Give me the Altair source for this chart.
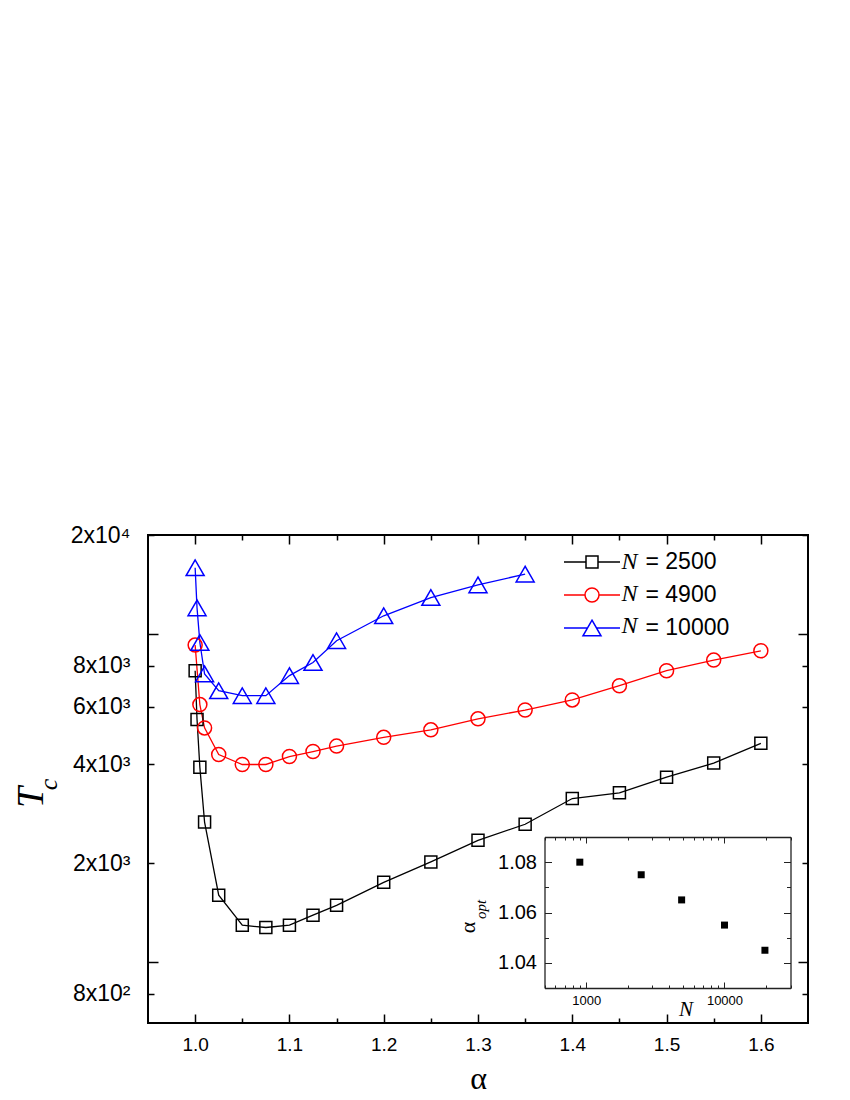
import altair as alt
import pandas as pd

# ---------------- data ----------------
series_labels = ["= 2500", "= 4900", "= 10000"]
series_symbols = ["N 2500", "N 4900", "N 10000"]
series_colors = ["#000000", "#ff0000", "#0000ff"]

alpha_2500 = [1.0, 1.002, 1.005, 1.01, 1.025, 1.05, 1.075, 1.1, 1.125, 1.15, 1.2,
              1.25, 1.3, 1.35, 1.4, 1.45, 1.5, 1.55, 1.6]
tc_2500 = [7720, 5480, 3920, 2670, 1600, 1296, 1275, 1296, 1390, 1490, 1750,
           2020, 2350, 2630, 3150, 3280, 3660, 4040, 4640]

alpha_4900 = [1.0, 1.005, 1.01, 1.025, 1.05, 1.075, 1.1, 1.125, 1.15, 1.2,
              1.25, 1.3, 1.35, 1.4, 1.45, 1.5, 1.55, 1.6]
tc_4900 = [9240, 6090, 5170, 4290, 4000, 4000, 4230, 4380, 4550, 4840,
           5100, 5510, 5860, 6290, 6950, 7720, 8320, 8880]

alpha_10000 = [1.0, 1.002, 1.005, 1.01, 1.025, 1.05, 1.075, 1.1, 1.125, 1.15,
               1.2, 1.25, 1.3, 1.35]
tc_10000 = [15900, 12000, 9410, 7550, 6710, 6480, 6480, 7460, 8180, 9530,
            11350, 12900, 14100, 15200]

inset_N = [900, 2500, 4900, 10000, 19600]
inset_alpha_opt = [1.08, 1.075, 1.065, 1.055, 1.045]

x_label_values = [1.0, 1.1, 1.2, 1.3, 1.4, 1.5, 1.6]
x_tick_values = [1.0, 1.05, 1.1, 1.15, 1.2, 1.25, 1.3, 1.35, 1.4, 1.45, 1.5, 1.55, 1.6]
y_label_values = [800, 2000, 4000, 6000, 8000, 20000]
y_label_texts = ["8x10²", "2x10³", "4x10³", "6x10³", "8x10³", "2x10⁴"]
y_tick_values = [800, 1000, 2000, 4000, 6000, 8000, 10000, 20000]
inset_x_label_values = [1000, 10000]
inset_x_tick_values = [500, 600, 700, 800, 900, 1000, 2000, 3000, 4000, 5000, 6000,
                       7000, 8000, 9000, 10000, 20000, 30000]
inset_y_label_values = [1.04, 1.06, 1.08]
inset_y_tick_values = [1.04, 1.05, 1.06, 1.07, 1.08]

# ---------------- geometry ----------------
W, H = 660, 488
INSET_X_RANGE = [396.5, 642.5]
INSET_Y_RANGE = [453, 302]

xs = alt.Scale(domain=[0.95, 1.65], nice=False, zero=False)
ys = alt.Scale(type="log", domain=[652.6, 20000], nice=False)
ixs = alt.Scale(type="log", domain=[500, 30000], range=INSET_X_RANGE, nice=False)
iys = alt.Scale(domain=[1.03, 1.09], range=INSET_Y_RANGE, nice=False, zero=False)

SANS = "Liberation Sans"
SERIF = "Liberation Serif"

x_tick_size = {"condition": {"test": "abs(datum.value*10 - round(datum.value*10)) < 0.01", "value": 9}, "value": 5}
y_tick_size = {"condition": {"test": "datum.value == 1000 || datum.value == 10000", "value": 10}, "value": 6}
ix_tick_size = {"condition": {"test": "datum.value == 1000 || datum.value == 10000", "value": 6}, "value": 3}
iy_tick_size = {"condition": {"test": "abs(datum.value*50 - round(datum.value*50)) < 0.01", "value": 7}, "value": 4}

y_label_expr = " : ".join(f"datum.value == {v} ? '{t}'" for v, t in zip(y_label_values, y_label_texts)) + " : ''"

# main axes
A1 = alt.Axis(orient="bottom", values=x_label_values, format=".1f", ticks=False, tickSize=0,
              domain=False, grid=False, labelFont=SANS, labelFontSize=19, labelPadding=12,
              labelColor="black", title="α", titleFont=SERIF, titleFontSize=32,
              titleFontWeight="normal", titleColor="black", titleY=65, titleBaseline="alphabetic")
A2 = alt.Axis(orient="top", offset=-H, values=x_tick_values, labels=False, domain=False, grid=False,
              tickSize=x_tick_size, tickWidth=1.5, tickColor="black", title=None)
A3 = alt.Axis(orient="bottom", offset=-H, values=x_tick_values, labels=False, domain=False, grid=False,
              tickSize=x_tick_size, tickWidth=1.5, tickColor="black", title=None)
B1 = alt.Axis(orient="left", values=y_label_values, labelExpr=y_label_expr, ticks=False, tickSize=0,
              domain=False, grid=False, labelFont=SANS, labelFontSize=23, labelPadding=18,
              labelColor="black", title="T", titleFont=SERIF, titleFontStyle="italic",
              titleFontWeight="normal", titleFontSize=38, titleColor="black", titleAngle=270,
              titleX=-105.5, titleY=262, titleAlign="center", titleBaseline="alphabetic")
B2 = alt.Axis(orient="right", offset=-W, values=y_tick_values, labels=False, domain=False, grid=False,
              tickSize=y_tick_size, tickWidth=1.5, tickColor="black",
              title="c", titleFont=SERIF, titleFontStyle="italic", titleFontWeight="normal",
              titleFontSize=26, titleColor="black", titleAngle=270, titleX=-91.5, titleY=249,
              titleAlign="center", titleBaseline="alphabetic")
B3 = alt.Axis(orient="left", offset=-W, values=y_tick_values, labels=False, domain=False, grid=False,
              tickSize=y_tick_size, tickWidth=1.5, tickColor="black", title=None)

# inset axes
C1 = alt.Axis(orient="bottom", offset=-35, values=inset_x_label_values, format="d", ticks=False,
              tickSize=0, domain=False, grid=False, labelFont=SANS, labelFontSize=13, labelPadding=6,
              labelColor="black", title="N", titleFont=SERIF, titleFontStyle="italic",
              titleFontWeight="normal", titleFontSize=21, titleColor="black", titleX=537.5, titleY=27,
              titleAlign="center", titleBaseline="alphabetic")
C2 = alt.Axis(orient="top", offset=-453, values=inset_x_tick_values, labels=False, domain=True,
              domainColor="#222222", domainWidth=1.3, grid=False, tickSize=ix_tick_size, tickWidth=1,
              tickColor="#222222", title=None)
C3 = alt.Axis(orient="bottom", offset=-186, values=inset_x_tick_values, labels=False, domain=True,
              domainColor="#222222", domainWidth=1.3, grid=False, tickSize=ix_tick_size, tickWidth=1,
              tickColor="#222222", title=None)
D1 = alt.Axis(orient="left", offset=-396.5, values=inset_y_label_values, format=".2f", ticks=False,
              tickSize=0, domain=False, grid=False, labelFont=SANS, labelFontSize=20, labelPadding=8,
              labelColor="black", title="α", titleFont=SERIF, titleFontSize=22,
              titleFontWeight="normal", titleColor="black", titleAngle=270, titleX=-70, titleY=392,
              titleAlign="center", titleBaseline="alphabetic")
D2 = alt.Axis(orient="right", offset=-263.5, values=inset_y_tick_values, labels=False, domain=True,
              domainColor="#222222", domainWidth=1.3, grid=False, tickSize=iy_tick_size, tickWidth=1,
              tickColor="#222222", title="opt", titleFont=SERIF, titleFontStyle="italic",
              titleFontWeight="normal", titleFontSize=15, titleColor="black", titleAngle=270,
              titleX=-59, titleY=374, titleAlign="center", titleBaseline="alphabetic")
D3 = alt.Axis(orient="left", offset=-642.5, values=inset_y_tick_values, labels=False, domain=True,
              domainColor="#222222", domainWidth=1.3, grid=False, tickSize=iy_tick_size, tickWidth=1,
              tickColor="#222222", title=None)

# ---------------- data frames ----------------
df_2500 = pd.DataFrame({"alpha": alpha_2500, "tc": tc_2500})
df_4900 = pd.DataFrame({"alpha": alpha_4900, "tc": tc_4900})
df_10000 = pd.DataFrame({"alpha": alpha_10000, "tc": tc_10000})
df_inset = pd.DataFrame({"N": inset_N, "a": inset_alpha_opt})
df_legend = pd.DataFrame({"label": series_labels, "nlabel": series_symbols})

def line_layer(df, color, xaxis, yaxis):
    return alt.Chart(df).mark_line(color=color, strokeWidth=1.3).encode(
        x=alt.X("alpha:Q", scale=xs, axis=xaxis),
        y=alt.Y("tc:Q", scale=ys, axis=yaxis),
    )

def point_layer(df, color, shape, size):
    return alt.Chart(df).mark_point(shape=shape, filled=False, color=color, size=size,
                                    strokeWidth=1.5, opacity=1).encode(
        x=alt.X("alpha:Q", scale=xs, axis=None),
        y=alt.Y("tc:Q", scale=ys, axis=None),
    )

l1 = line_layer(df_2500, series_colors[0], A1, B1)
l2 = line_layer(df_4900, series_colors[1], A2, B2)
l3 = line_layer(df_10000, series_colors[2], A3, B3)
p1 = point_layer(df_2500, series_colors[0], "square", 144)
p2 = point_layer(df_4900, series_colors[1], "circle", 196)
p3 = point_layer(df_10000, series_colors[2], "triangle-up", 324)

inset_pts = alt.Chart(df_inset).mark_square(size=49, color="black", opacity=1).encode(
    x=alt.X("N:Q", scale=ixs, axis=C1),
    y=alt.Y("a:Q", scale=iys, axis=D1),
)
inset_ax2 = alt.Chart(df_inset).mark_point(opacity=0).encode(
    x=alt.X("N:Q", scale=ixs, axis=C2),
    y=alt.Y("a:Q", scale=iys, axis=D2),
)
inset_ax3 = alt.Chart(df_inset).mark_point(opacity=0).encode(
    x=alt.X("N:Q", scale=ixs, axis=C3),
    y=alt.Y("a:Q", scale=iys, axis=D3),
)

legend_paths = [
    "M-4,0L-0.857,0M0.857,0L4,0M-0.857,-0.857L0.857,-0.857L0.857,0.857L-0.857,0.857Z",
    "M-4,0L-1,0M1,0L4,0M1,0A1,1,0,1,1,-1,0A1,1,0,1,1,1,0Z",
    "M-4,0L-0.643,0M0.643,0L4,0M0,-1.114L1.286,1.114L-1.286,1.114Z",
]

leg1 = alt.Legend(orient="none", legendX=432.5, legendY=15.5, title=None, labelFont=SANS,
                  labelFontSize=23, labelColor="black", labelOffset=42, rowPadding=9,
                  symbolSize=196, symbolStrokeWidth=1.5, symbolOpacity=1, padding=0,
                  labelLimit=300, symbolFillColor="transparent")
leg2 = alt.Legend(orient="none", legendX=449.5, legendY=15, title=None, labelExpr="'N'",
                  labelFont=SERIF, labelFontStyle="italic", labelFontSize=24, labelColor="black",
                  labelOffset=0, rowPadding=8, symbolOpacity=0, padding=0)

legend_layer = alt.Chart(df_legend).mark_point(filled=False, opacity=0).encode(
    color=alt.Color("label:N", scale=alt.Scale(domain=series_labels, range=series_colors), legend=leg1),
    shape=alt.Shape("label:N", scale=alt.Scale(domain=series_labels, range=legend_paths), legend=leg1),
    size=alt.Size("nlabel:O", scale=alt.Scale(domain=series_symbols, range=[4, 4]), legend=leg2),
)

chart = alt.layer(l1, l2, l3, p1, p2, p3, inset_ax2, inset_ax3, inset_pts, legend_layer).resolve_scale(
    x="independent", y="independent"
).resolve_axis(
    x="independent", y="independent"
).properties(
    width=W, height=H,
    padding={"left": 140, "top": 527, "right": 20, "bottom": 76},
    autosize=alt.AutoSizeParams(type="none"),
    background="white",
).configure_view(stroke="black", strokeWidth=2).configure_axis(grid=False)

chart.save("out.html", embed_options={"renderer": "svg", "actions": False})
